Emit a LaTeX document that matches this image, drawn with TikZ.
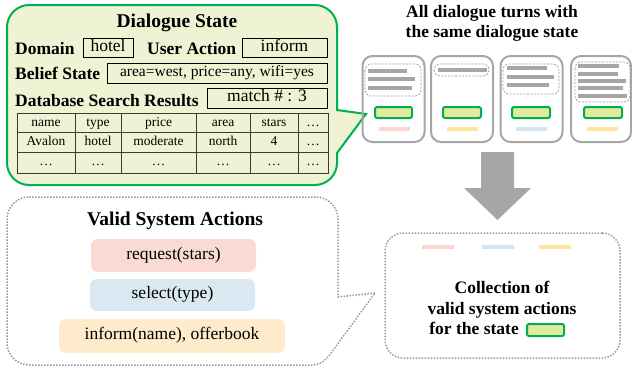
\documentclass[tikz,border=0pt]{standalone}
\usepackage{fontspec}
\setmainfont{Liberation Serif}
\definecolor{dsgreen}{HTML}{00B050}
\definecolor{dsfill}{HTML}{EFF3D3}
\definecolor{gbox}{HTML}{E1EA9F}
\definecolor{cardgray}{HTML}{A6A6A6}
\definecolor{bargray}{HTML}{A6A6A6}
\definecolor{dotgray}{HTML}{9A9A9A}
\definecolor{tline}{HTML}{3A3A3A}
\definecolor{pinkc}{HTML}{FADBD3}
\definecolor{bluec}{HTML}{DAE8F1}
\definecolor{orangec}{HTML}{FEEBCC}
\definecolor{pinkbar}{HTML}{F8D6CF}
\definecolor{bluebar}{HTML}{D5E5F0}
\definecolor{yellowbar}{HTML}{FFE699}
\begin{document}
\begin{tikzpicture}[x=1pt,y=-1pt,
  titlefont/.style={font=\fontsize{19.5}{22}\selectfont\bfseries},
  boldlbl/.style={font=\fontsize{17.5}{20}\selectfont\bfseries, inner sep=0pt},
  plain/.style={font=\fontsize{17.5}{20}\selectfont, inner sep=0pt},
  boxed/.style={draw=black, line width=0.9pt, inner sep=0pt, text height=0.7em, text depth=0pt, font=\fontsize{17.5}{20}\selectfont},
  celltxt/.style={font=\fontsize{13.5}{15}\selectfont, inner sep=0pt, anchor=base},
  cardbox/.style={draw=cardgray, line width=2pt, rounded corners=10pt, minimum width=62pt, minimum height=86pt, inner sep=0pt},
  dashbox/.style={draw=dotgray, line width=0.7pt, dash pattern=on 2pt off 1.5pt, rounded corners=6pt},
  greybar/.style={fill=bargray},
  greenbox/.style={draw=dsgreen, fill=gbox, line width=2pt, rounded corners=2pt, inner sep=0pt},
  colbar/.style={inner sep=0pt, minimum height=4pt, minimum width=31pt},
  dotline/.style={draw=dotgray, line width=1.5pt, dash pattern=on 1.5pt off 1.5pt},
  actbox/.style={rounded corners=7pt, inner sep=0pt, text height=0.7em, text depth=0pt, font=\fontsize{17.5}{20}\selectfont},
]
\useasboundingbox (0,0) rectangle (632,372);

% ---------- Dialogue State callout ----------
\path[draw=dsgreen, fill=dsfill, line width=2pt]
  (29,5) -- (315,5) .. controls (327,5) and (337,15) .. (337,27)
  -- (337,110) -- (366,114) -- (337,153) -- (337,163)
  .. controls (337,175) and (327,185) .. (315,185) -- (29,185)
  .. controls (17,185) and (7,175) .. (7,163) -- (7,27)
  .. controls (7,15) and (17,5) .. (29,5) -- cycle;

\node[titlefont, inner sep=0pt, anchor=base] (dstitle) at (177,27.5) {Dialogue State};
\node[boldlbl, anchor=base west] (domlbl) at (15,54) {Domain};
\node[boxed, minimum width=50pt, minimum height=19pt] (dombox) at (108,47.5) {hotel};
\node[boldlbl, anchor=base west] (ualbl) at (147,54) {User Action};
\node[boxed, minimum width=85pt, minimum height=19pt] (uabox) at (284.5,47.5) {inform};
\node[boldlbl, anchor=base west] (bslbl) at (15,79) {Belief State};
\node[boxed, minimum width=220pt, minimum height=20pt, font=\fontsize{15.5}{18}\selectfont] (bsbox) at (217,73) {area=west, price=any, wifi=yes};
\node[boldlbl, anchor=base west] (dblbl) at (15,106) {Database Search Results};
\node[boxed, minimum width=120pt, minimum height=20pt] (dbbox) at (267,98) {match \# : 3};

% table
\draw[tline, line width=1pt] (17,113) rectangle (328,173);
\foreach \yy in {132,152} \draw[tline, line width=1pt] (17,\yy) -- (328,\yy);
\foreach \xx in {75,121,196,250,298} \draw[tline, line width=1pt] (\xx,113) -- (\xx,173);
\node[celltxt] (h1) at (46,126) {name};
\node[celltxt] (h2) at (98,126) {type};
\node[celltxt] (h3) at (158.5,126) {price};
\node[celltxt] (h4) at (223,126) {area};
\node[celltxt] (h5) at (274,126) {stars};
\node[celltxt] (h6) at (313,126) {…};
\node[celltxt] (r1) at (46,145) {Avalon};
\node[celltxt] (r2) at (98,145) {hotel};
\node[celltxt] (r3) at (158.5,145) {moderate};
\node[celltxt] (r4) at (223,145) {north};
\node[celltxt] (r5) at (274,145) {4};
\node[celltxt] (r6) at (313,145) {…};
\node[celltxt] (s1) at (46,165) {…};
\node[celltxt] (s2) at (98,165) {…};
\node[celltxt] (s3) at (158.5,165) {…};
\node[celltxt] (s4) at (223,165) {…};
\node[celltxt] (s5) at (274,165) {…};
\node[celltxt] (s6) at (313,165) {…};

% ---------- right title ----------
\node[boldlbl, anchor=base] (rt1) at (492,17.5) {All dialogue turns with};
\node[boldlbl, anchor=base] (rt2) at (492,37.5) {the same dialogue state};

% ---------- cards ----------
\node[cardbox] (card1) at (393.5,99) {};
\node[cardbox] (card2) at (462,99) {};
\node[cardbox] (card3) at (531.5,99) {};
\node[cardbox, minimum width=60pt] (card4) at (601,99) {};

% card 1
\draw[dashbox] (365,64) rectangle (421,96);
\fill[greybar] (368,69) rectangle (407,73);
\fill[greybar] (368,77) rectangle (415,81);
\fill[greybar] (368,86) rectangle (412,90);
\node[greenbox, minimum width=37pt, minimum height=11pt] (g1) at (393.5,112.5) {};
\node[colbar, fill=pinkbar] (b1) at (394.5,128.5) {};
% card 2
\draw[dashbox] (434,64) rectangle (489,76);
\fill[greybar] (438,68) rectangle (487,72);
\node[greenbox, minimum width=38pt, minimum height=11pt] (g2) at (462,112.5) {};
\node[colbar, fill=yellowbar] (b2) at (462.5,128.5) {};
% card 3
\draw[dashbox] (503,64) rectangle (559,94);
\fill[greybar] (507,66) rectangle (547,70);
\fill[greybar] (507,75) rectangle (554,79);
\fill[greybar] (507,83) rectangle (549,87);
\node[greenbox, minimum width=38pt, minimum height=11pt] (g3) at (531,112.5) {};
\node[colbar, fill=bluebar] (b3) at (531,128.5) {};
% card 4
\draw[dashbox] (575,62) rectangle (630,102);
\fill[greybar] (578,64) rectangle (619,68);
\fill[greybar] (578,72) rectangle (618,76);
\fill[greybar] (578,79) rectangle (626,83);
\fill[greybar] (578,86) rectangle (623,90);
\fill[greybar] (578,94) rectangle (627,98);
\node[greenbox, minimum width=38pt, minimum height=11pt] (g4) at (603,112.5) {};
\node[colbar, fill=yellowbar] (b4) at (602.5,128.5) {};

% ---------- big arrow ----------
\fill[bargray] (481,152) -- (514,152) -- (514,188) -- (531,188) -- (497.5,220) -- (464,188) -- (481,188) -- cycle;

% ---------- Valid System Actions callout ----------
\path[dotline]
  (29,197) -- (316,197) .. controls (328,197) and (338,207) .. (338,219)
  -- (338,297) -- (375,293) -- (334,349)
  .. controls (328,357) and (323,365) .. (312,365) -- (29,365)
  .. controls (17,365) and (7,355) .. (7,343) -- (7,219)
  .. controls (7,207) and (17,197) .. (29,197) -- cycle;
\node[titlefont, inner sep=0pt, anchor=base] (vsa) at (175,225) {Valid System Actions};
\node[actbox, fill=pinkc, minimum width=165pt, minimum height=33pt] (a1) at (173.5,255.5) {request(stars)};
\node[actbox, fill=bluec, minimum width=165pt, minimum height=32pt] (a2) at (172.5,295) {select(type)};
\node[actbox, fill=orangec, minimum width=226pt, minimum height=34pt] (a3) at (172,336) {inform(name), offerbook};

% ---------- Collection box ----------
\node[dotline, rounded corners=18pt, minimum width=235pt, minimum height=125pt, inner sep=0pt] (coll) at (502.5,295.5) {};
\node[colbar, fill=pinkbar, minimum width=32pt] (cb1) at (438,247) {};
\node[colbar, fill=bluebar, minimum width=32pt] (cb2) at (497.5,247) {};
\node[colbar, fill=yellowbar, minimum width=32pt] (cb3) at (554.5,247) {};
\node[boldlbl, anchor=base] (ct1) at (502,293) {Collection of};
\node[boldlbl, anchor=base] (ct2) at (502,314) {valid system actions};
\node[boldlbl, anchor=base east] (ct3) at (519,334) {for the state};
\node[greenbox, minimum width=37pt, minimum height=12pt] (cg) at (545.5,330) {};
\end{tikzpicture}
\end{document}
